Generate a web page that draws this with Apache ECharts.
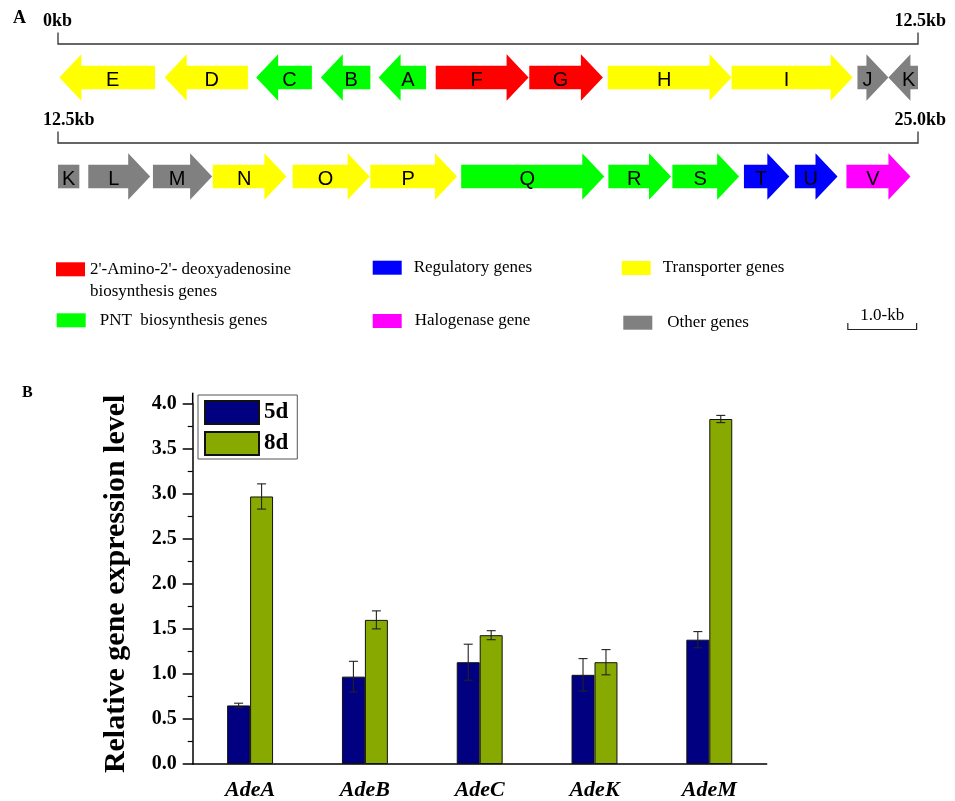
<!DOCTYPE html>
<html>
<head>
<meta charset="utf-8">
<script src="https://cdn.jsdelivr.net/npm/echarts@6/dist/echarts.min.js"></script>
<style>
  html, body { margin: 0; padding: 0; background: #ffffff; }
  #chart { width: 955px; height: 801px; }
</style>
</head>
<body>
<div id="chart"></div>
<script>
// ---------- Panel A: gene cluster (positions in kb) ----------
const geneNames  = ['E', 'D', 'C', 'B', 'A', 'F', 'G', 'H', 'I', 'J', 'K',
                    'L', 'M', 'N', 'O', 'P', 'Q', 'R', 'S', 'T', 'U', 'V'];
const geneStart  = [0.02, 1.55, 2.88, 3.82, 4.66, 5.49, 6.85, 7.99, 9.79, 11.62, 12.07,
                    12.94, 13.88, 14.75, 15.91, 17.04, 18.36, 20.50, 21.43, 22.47, 23.21, 23.96];
const geneEnd    = [1.41, 2.76, 3.69, 4.54, 5.35, 6.84, 7.92, 9.79, 11.55, 12.07, 12.81,
                    13.84, 14.74, 15.82, 17.03, 18.30, 20.44, 21.41, 22.40, 23.13, 23.83, 24.89];
// +1 = rightward, -1 = leftward
const geneStrand = [-1, -1, -1, -1, -1, 1, 1, 1, 1, 1, -1,
                    1, 1, 1, 1, 1, 1, 1, 1, 1, 1, 1];
// index into groupNames
const geneGroup  = [4, 4, 1, 1, 1, 0, 0, 4, 4, 5, 5,
                    5, 5, 4, 4, 4, 1, 1, 1, 2, 2, 3];

const groupNames  = ["2'-Amino-2'- deoxyadenosine\nbiosynthesis genes", 'PNT  biosynthesis genes',
                     'Regulatory genes', 'Halogenase gene', 'Transporter genes', 'Other genes'];
const groupColors = ['#ff0000', '#00ff00', '#0000ff', '#ff00ff', '#ffff00', '#808080'];

const rowNames        = ['0-12.5 kb', '12.5-25.0 kb'];
const ROW_KB          = 12.5;
const rulerLeftText   = ['0kb', '12.5kb'];
const rulerRightText  = ['12.5kb', '25.0kb'];
const scaleBarKb      = [11.48, 12.48];
const scaleBarText    = '1.0-kb';

// ---------- Panel B: relative expression ----------
const categories = ['AdeA', 'AdeB', 'AdeC', 'AdeK', 'AdeM'];
const mean5d = [0.65, 0.97, 1.13, 0.99, 1.38];
const err5d  = [0.025, 0.17, 0.20, 0.18, 0.09];
const mean8d = [2.97, 1.60, 1.43, 1.13, 3.83];
const err8d  = [0.14, 0.10, 0.05, 0.14, 0.04];

// ---------- styling ----------
const SERIF = '"Liberation Serif", "Times New Roman", serif';
const SANS = '"Liberation Sans", Arial, sans-serif';
const HEAD_PX = 22, BODY_HALF = 11.8, HEAD_HALF = 23.3;

function renderGene(params, api) {
  const i = api.value(2);
  const start = geneStart[i], end = geneEnd[i], strand = geneStrand[i];
  const headKb = strand > 0 ? end : start;
  const children = [];
  for (let r = 0; r < rowNames.length; r++) {
    const lo = Math.max(start, r * ROW_KB), hi = Math.min(end, (r + 1) * ROW_KB);
    if (hi <= lo) continue;
    const p0 = api.coord([lo - r * ROW_KB, r]);
    const p1 = api.coord([hi - r * ROW_KB, r]);
    const x0 = p0[0], x1 = p1[0], y = p0[1];
    const hasHead = headKb >= lo && headKb <= hi;
    let pts, labelX;
    if (!hasHead) {
      pts = [[x0, y - BODY_HALF], [x1, y - BODY_HALF], [x1, y + BODY_HALF], [x0, y + BODY_HALF]];
      labelX = (x0 + x1) / 2;
    } else if (strand > 0) {
      const xb = x1 - Math.min(HEAD_PX, x1 - x0);
      pts = [[x0, y - BODY_HALF], [xb, y - BODY_HALF], [xb, y - HEAD_HALF], [x1, y],
             [xb, y + HEAD_HALF], [xb, y + BODY_HALF], [x0, y + BODY_HALF]];
      labelX = (x0 + (xb + x1) / 2) / 2;
    } else {
      const xb = x0 + Math.min(HEAD_PX, x1 - x0);
      pts = [[x1, y - BODY_HALF], [xb, y - BODY_HALF], [xb, y - HEAD_HALF], [x0, y],
             [xb, y + HEAD_HALF], [xb, y + BODY_HALF], [x1, y + BODY_HALF]];
      labelX = (x1 + (xb + x0) / 2) / 2;
    }
    children.push({ type: 'polygon', shape: { points: pts }, style: { fill: api.visual('color') } });
    children.push({ type: 'text', x: labelX, y: y + 2.5,
      style: { text: geneNames[i], font: '20px ' + SANS, fill: '#000', align: 'center', verticalAlign: 'middle' } });
  }
  return { type: 'group', children };
}

function renderRuler(params, api) {
  const r = api.value(2);
  const a = api.coord([api.value(0), r]);
  const b = api.coord([api.value(1), r]);
  const yl = a[1] - 33.5;
  const lineStyle = { stroke: '#333', lineWidth: 1.3, fill: 'none' };
  const font = 'bold 18px ' + SERIF;
  return { type: 'group', children: [
    { type: 'polyline', shape: { points: [[a[0], yl - 11.5], [a[0], yl], [b[0], yl], [b[0], yl - 11.5]] }, style: lineStyle },
    { type: 'text', x: a[0] - 15, y: yl - 22.5, style: { text: rulerLeftText[r], font, fill: '#000', align: 'left', verticalAlign: 'middle' } },
    { type: 'text', x: b[0] + 28, y: yl - 22.5, style: { text: rulerRightText[r], font, fill: '#000', align: 'right', verticalAlign: 'middle' } }
  ] };
}

function renderScaleBar(params, api) {
  const a = api.coord([api.value(0), 1]);
  const b = api.coord([api.value(1), 1]);
  const y = a[1] + 153;
  return { type: 'group', children: [
    { type: 'polyline', shape: { points: [[a[0], y - 6.6], [a[0], y], [b[0], y], [b[0], y - 6.6]] },
      style: { stroke: '#222', lineWidth: 1.2, fill: 'none' } },
    { type: 'text', x: (a[0] + b[0]) / 2, y: y - 14, style: { text: scaleBarText, font: '17px ' + SERIF, fill: '#000', align: 'center', verticalAlign: 'middle' } }
  ] };
}

function errorRenderer(side) {
  return function (params, api) {
    const x = api.value(0), m = api.value(1), e = api.value(2);
    const top = api.coord([x, m + e]);
    const bot = api.coord([x, m - e]);
    const bw = api.size([1, 0])[0];
    const cx = top[0] + side * 0.1 * bw;
    const cap = 4.5;
    const style = { stroke: '#222', lineWidth: 1.1 };
    return { type: 'group', children: [
      { type: 'line', shape: { x1: cx, y1: top[1], x2: cx, y2: bot[1] }, style },
      { type: 'line', shape: { x1: cx - cap, y1: top[1], x2: cx + cap, y2: top[1] }, style },
      { type: 'line', shape: { x1: cx - cap, y1: bot[1], x2: cx + cap, y2: bot[1] }, style }
    ] };
  };
}

// swatch positions of the gene-group legend: [left, top, text gap]
const groupLegendLayout = [[56, 262.3, 0], [56.7, 313.3, 9], [372.7, 260.7, 7],
                           [372.7, 314, 8], [621.7, 261, 7], [623.3, 315.7, 10]];

const geneSeries = groupNames.map((name, g) => ({
  type: 'custom', name, xAxisIndex: 0, yAxisIndex: 0, clip: false,
  itemStyle: { color: groupColors[g] },
  renderItem: renderGene,
  data: geneNames.map((_, i) => i).filter(i => geneGroup[i] === g)
                 .map(i => [geneStart[i], geneEnd[i], i]),
  encode: { x: [0, 1] },
  silent: true
}));

const groupLegends = groupNames.map((name, g) => {
  const [left, top, gap] = groupLegendLayout[g];
  const twoLine = name.indexOf('\n') >= 0;
  return {
    data: [name], left, top: top - (twoLine ? 26 : 3), padding: 0, orient: 'vertical',
    icon: 'rect', itemWidth: 29, itemHeight: 14, selectedMode: false,
    // a leading empty line keeps the first line of a two-line label level with the swatch
    formatter: twoLine ? (n => '\n' + n) : (n => n),
    textStyle: { fontFamily: SERIF, fontSize: 17, color: '#000', lineHeight: twoLine ? 22 : 20,
                 padding: [0, 0, 0, gap] }
  };
});

const chart = echarts.init(document.getElementById('chart'), null, { renderer: 'canvas' });
chart.setOption({
  backgroundColor: '#ffffff',
  animation: false,
  title: [
    { text: 'A', left: 13, top: 9, padding: 0, textStyle: { fontFamily: SERIF, fontWeight: 'bold', fontSize: 18, color: '#000' } },
    { text: 'B', left: 22, top: 385, padding: 0, textStyle: { fontFamily: SERIF, fontWeight: 'bold', fontSize: 16, color: '#000' } }
  ],
  legend: groupLegends.concat([{
    data: ['5d', '8d'], orient: 'vertical', left: 198, top: 395, padding: [5, 9, 3, 6],
    itemWidth: 54, itemHeight: 23, itemGap: 6, icon: 'rect', selectedMode: false,
    backgroundColor: '#fff', borderColor: '#555', borderWidth: 1,
    textStyle: { fontFamily: SERIF, fontWeight: 'bold', fontSize: 23, color: '#000' }
  }]),
  grid: [
    { left: 58, top: 28, width: 860, height: 198 },
    { left: 192.7, top: 403.7, width: 574, height: 362.3 }
  ],
  xAxis: [
    { gridIndex: 0, type: 'value', min: 0, max: ROW_KB, show: false },
    { gridIndex: 1, type: 'category', data: categories, position: 'bottom',
      axisLine: { lineStyle: { color: '#000', width: 1.5 } },
      axisTick: { alignWithLabel: true, length: 8, lineStyle: { color: '#000', width: 1.5 } },
      axisLabel: { fontFamily: SERIF, fontWeight: 'bold', fontStyle: 'italic', fontSize: 22, color: '#000', margin: 15 } },
    { gridIndex: 1, type: 'category', data: categories, position: 'bottom',
      axisLine: { show: false },
      axisTick: { length: 4, lineStyle: { color: '#000', width: 1.5 } },
      axisLabel: { show: false } }
  ],
  yAxis: [
    { gridIndex: 0, type: 'category', data: rowNames, inverse: true, show: false },
    { gridIndex: 1, type: 'value', min: 0, max: 4, interval: 0.5,
      name: 'Relative gene expression level', nameLocation: 'middle', nameGap: 61,
      nameTextStyle: { fontFamily: SERIF, fontWeight: 'bold', fontSize: 30, color: '#000' },
      axisLine: { show: true, lineStyle: { color: '#000', width: 1.5 } },
      axisTick: { show: true, length: 10, lineStyle: { color: '#000', width: 1.5 } },
      minorTick: { show: true, splitNumber: 2, length: 5, lineStyle: { color: '#000', width: 1.2 } },
      splitLine: { show: false },
      axisLabel: { formatter: v => v.toFixed(1), fontFamily: SERIF, fontWeight: 'bold', fontSize: 20, color: '#000', margin: 16 } }
  ],
  graphic: [
    // axis line continues slightly above the last tick
    { type: 'line', shape: { x1: 192.7, y1: 392.7, x2: 192.7, y2: 403.7 }, style: { stroke: '#000', lineWidth: 1.5 } }
  ],
  series: geneSeries.concat([
    { type: 'custom', name: 'ruler', xAxisIndex: 0, yAxisIndex: 0, clip: false, silent: true,
      renderItem: renderRuler, data: rowNames.map((_, r) => [0, ROW_KB, r]), encode: { x: [0, 1] } },
    { type: 'custom', name: 'scale', xAxisIndex: 0, yAxisIndex: 0, clip: false, silent: true,
      renderItem: renderScaleBar, data: [scaleBarKb], encode: { x: [0, 1] } },
    { type: 'bar', name: '5d', xAxisIndex: 1, yAxisIndex: 1, data: mean5d, barWidth: '20%', barGap: '0%',
      itemStyle: { color: '#000080', borderColor: '#111', borderWidth: 1 } },
    { type: 'bar', name: '8d', xAxisIndex: 1, yAxisIndex: 1, data: mean8d, barWidth: '20%', barGap: '0%',
      itemStyle: { color: '#88aa00', borderColor: '#111', borderWidth: 1 } },
    { type: 'custom', name: 'err5d', xAxisIndex: 1, yAxisIndex: 1, z: 5, silent: true,
      renderItem: errorRenderer(-1), data: categories.map((_, i) => [i, mean5d[i], err5d[i]]) },
    { type: 'custom', name: 'err8d', xAxisIndex: 1, yAxisIndex: 1, z: 5, silent: true,
      renderItem: errorRenderer(1), data: categories.map((_, i) => [i, mean8d[i], err8d[i]]) }
  ])
});
</script>
</body>
</html>
